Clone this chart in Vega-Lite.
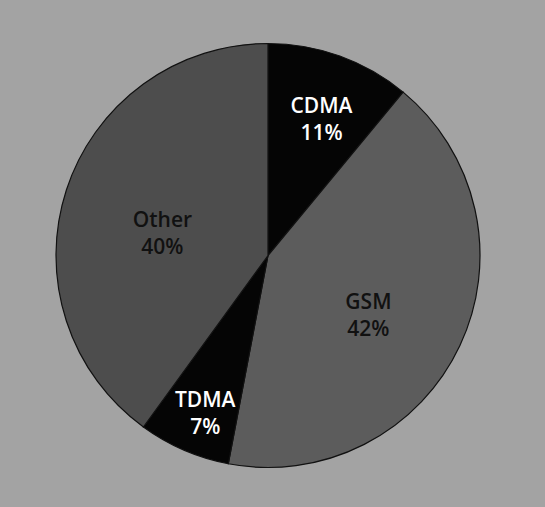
{
  "$schema": "https://vega.github.io/schema/vega-lite/v6.json",
  "width": 545,
  "height": 507,
  "autosize": {"type": "fit", "contains": "padding"},
  "padding": {"left": 0, "right": 9, "top": 4, "bottom": 0},
  "background": "#a3a3a3",
  "view": {"stroke": null},
  "data": {
    "values": [
      {"tech": "CDMA", "share": 11, "rank": 1, "label": "CDMA\n11%"},
      {"tech": "GSM", "share": 42, "rank": 2, "label": "GSM\n42%"},
      {"tech": "TDMA", "share": 7, "rank": 3, "label": "TDMA\n7%"},
      {"tech": "Other", "share": 40, "rank": 4, "label": "Other\n40%"}
    ]
  },
  "encoding": {
    "theta": {"field": "share", "type": "quantitative", "stack": true},
    "order": {"field": "rank", "type": "quantitative"}
  },
  "layer": [
    {
      "mark": {"type": "arc", "radius": 212, "stroke": "#111111", "strokeWidth": 1.2},
      "encoding": {
        "color": {
          "field": "tech",
          "type": "nominal",
          "scale": {"domain": ["CDMA", "GSM", "TDMA", "Other"], "range": ["#050505", "#5c5c5c", "#050505", "#4d4d4d"]},
          "legend": null
        }
      }
    },
    {
      "mark": {"type": "text", "radius": 158, "font": "Open Sans", "fontSize": 21, "fontWeight": 600, "lineBreak": "\n", "lineHeight": 27, "color": "#ffffff", "align": "center", "baseline": "middle"},
      "encoding": {
        "text": {"condition": {"test": "datum.tech === 'CDMA' || datum.tech === 'TDMA'", "field": "label"}, "value": ""}
      }
    },
    {
      "mark": {"type": "text", "radius": 111, "font": "Open Sans", "fontSize": 21, "fontWeight": 600, "lineBreak": "\n", "lineHeight": 27, "color": "#111111", "align": "center", "baseline": "middle"},
      "encoding": {
        "text": {"condition": {"test": "datum.tech === 'GSM' || datum.tech === 'Other'", "field": "label"}, "value": ""}
      }
    }
  ]
}
